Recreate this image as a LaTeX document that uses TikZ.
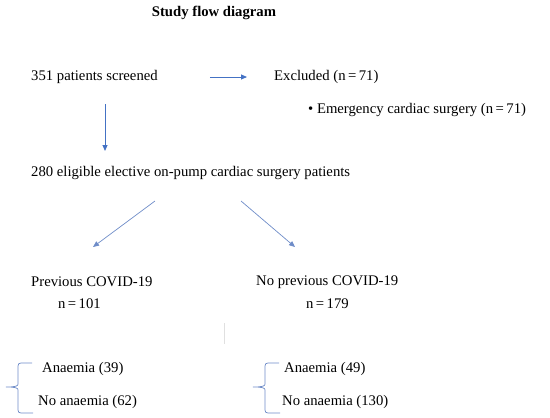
\documentclass[tikz,border=0pt]{standalone}
\usepackage{fontspec}
\setmainfont{Liberation Serif}
\usetikzlibrary{arrows.meta, positioning}

\definecolor{arrowblue}{RGB}{68,114,196}
\definecolor{paleblue}{RGB}{110,140,200}

\begin{document}
\begin{tikzpicture}[
  x=1pt, y=-1pt,
  txt/.style={anchor=west, inner sep=0pt, font=\fontsize{14.7}{17}\selectfont},
  ttl/.style={inner sep=0pt, font=\fontsize{14.7}{17}\selectfont\bfseries},
  arr/.style={draw=arrowblue, line width=0.8pt, -{Triangle[length=6pt, width=5pt]}},
  darr/.style={draw=paleblue, line width=0.7pt, -{Triangle[length=6pt, width=5pt]}},
  brc/.style={draw=paleblue, line width=0.7pt}
]
  \useasboundingbox (0,0) rectangle (550,418);

  % Nodes
  \node[ttl] (title) at (214,13) {Study flow diagram};
  \node[txt] (screen) at (31,77) {351 patients screened};
  \node[txt] (excl) at (274,77) {Excluded (n\,=\,71)};
  \node[txt] (emerg) at (308,110) {\textbullet\ Emergency cardiac surgery (n\,=\,71)};
  \node[txt] (elig) at (31,173) {280 eligible elective on-pump cardiac surgery patients};
  \node[txt] (prev) at (31,282) {Previous COVID-19};
  \node[txt] (noprev) at (256,282) {No previous COVID-19};
  \node[txt] (n1) at (58,304) {n\,=\,101};
  \node[txt] (n2) at (306,304) {n\,=\,179};
  \node[txt] (an1) at (42,369) {Anaemia (39)};
  \node[txt] (no1) at (38,402) {No anaemia (62)};
  \node[txt] (an2) at (284,369) {Anaemia (49)};
  \node[txt] (no2) at (282,402) {No anaemia (130)};

  % Arrow ends
  \coordinate (v1) at (105,104);
  \coordinate (v2) at (105,151);
  \coordinate (dl1) at (155,201);
  \coordinate (dl2) at (93,247);
  \coordinate (dr1) at (241,201);
  \coordinate (dr2) at (295,247);

  % Flows
  \draw[arr, shorten <=52pt, shorten >=27pt] (screen.east) -- (excl.west);
  \draw[arr] (v1) -- (v2);
  \draw[darr] (dl1) -- (dl2);
  \draw[darr] (dr1) -- (dr2);

  % faint mark
  \draw[black!12, line width=0.8pt] (224,323) -- (224,344);

  % Braces
  \foreach \dx in {0,247} {
    \draw[brc, xshift=\dx pt] (32,363) -- (21,363)
      .. controls (19,363) and (18,364) .. (18,366) -- (18,384)
      .. controls (18,386) and (16,387) .. (6,387)
      .. controls (16,387) and (18,388) .. (18,390) -- (18,410)
      .. controls (18,412) and (19,413) .. (21,413) -- (33,413);
  }
\end{tikzpicture}
\end{document}
